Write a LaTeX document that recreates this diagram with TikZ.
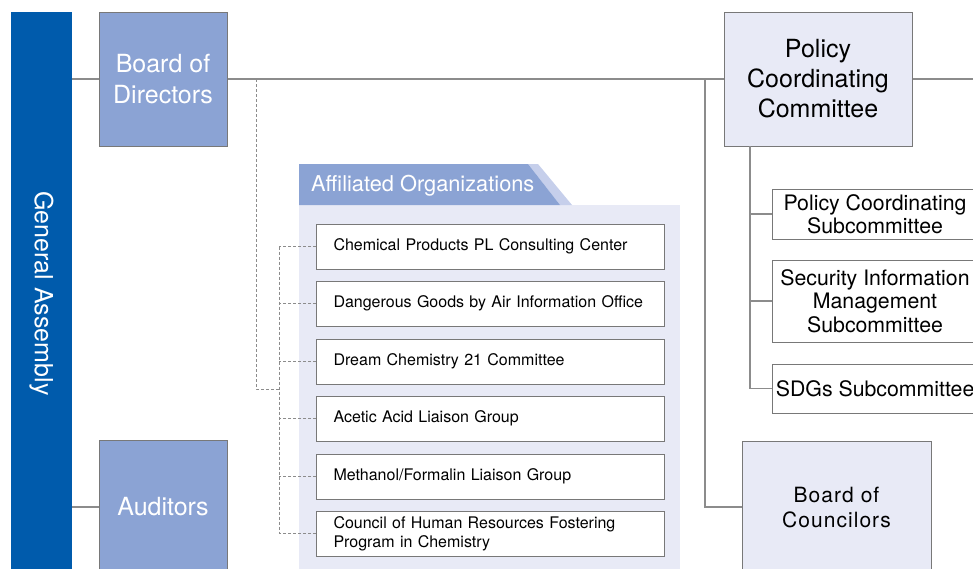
\documentclass[tikz,border=0pt]{standalone}
\usepackage{fontspec}
\setmainfont{TeX Gyre Heros}
\newfontfamily\spaced[LetterSpace=5]{TeX Gyre Heros}
\usepackage{tikz}
\usetikzlibrary{shapes}
\usetikzlibrary{positioning}
\usepackage{xcolor}
\definecolor{gablue}{HTML}{005BAC}
\definecolor{boxblue}{HTML}{8BA3D4}
\definecolor{palebg}{HTML}{E8EAF6}
\definecolor{tabpale}{HTML}{C6CFEB}
\definecolor{linegray}{HTML}{8C8C8C}
\definecolor{edgegray}{HTML}{787878}

\begin{document}
\begin{tikzpicture}[x=1pt,y=-1pt,
  conn/.style={linegray,line width=1.2pt},
  dots/.style={linegray,line width=1pt,dash pattern=on 3pt off 2pt},
  bigbox/.style={draw=edgegray,line width=1pt,minimum width=128pt,minimum height=134pt,fill=boxblue,text=white,align=center,font=\fontsize{25}{31}\selectfont},
  orgbox/.style={draw=edgegray,line width=1pt,fill=white,anchor=west,minimum height=45pt,text width=314pt,inner xsep=17pt,align=left,font=\fontsize{16}{19}\selectfont},
  subbox/.style={draw=edgegray,line width=1pt,fill=white,anchor=west,minimum width=205pt,align=center,font=\fontsize{21.3}{23.5}\selectfont}]
\useasboundingbox (0,0) rectangle (973,568);
\clip (0,0) rectangle (973,568);

\node[fill=gablue,text=white,rotate=-90,minimum width=563pt,minimum height=61pt,font=\fontsize{25}{30}\selectfont] (ga) at (41.5,293.5) {General Assembly};
\node[bigbox] (bod) at (163,79) {Board of\\Directors};
\node[bigbox] (aud) at (163,507) {Auditors};
\node[bigbox,fill=palebg,text=black,minimum width=188pt,font=\fontsize{25}{30}\selectfont] (pcc) at (818,79) {Policy\\Coordinating\\Committee};
\node[bigbox,fill=palebg,text=black,minimum width=189pt,minimum height=132pt,font=\spaced\fontsize{21}{25}\selectfont] (boc) at (836.5,507) {Board of\\Councilors};

\fill[palebg] (299,205) rectangle (680,575);
\fill[tabpale] (528,164) -- (538,164) -- (572,205) -- (560,205) -- cycle;
\fill[boxblue] (299,164) -- (528,164) -- (560,205) -- (299,205) -- cycle;
\node[anchor=west,text=white,inner sep=0pt,font=\fontsize{21.8}{25}\selectfont] (aohead) at (311,186) {Affiliated Organizations};

\node[orgbox] (ao1) at (316,246.5) {Chemical Products PL Consulting Center};
\node[orgbox] (ao2) at (316,303.5) {Dangerous Goods by Air Information Office};
\node[orgbox] (ao3) at (316,361.5) {Dream Chemistry 21 Committee};
\node[orgbox] (ao4) at (316,418.5) {Acetic Acid Liaison Group};
\node[orgbox] (ao5) at (316,476.5) {Methanol/Formalin Liaison Group};
\node[orgbox] (ao6) at (316,533.5) {Council of Human Resources Fostering\\Program in Chemistry};

\node[subbox,minimum height=50pt] (pcs) at (772,214) {Policy Coordinating\\Subcommittee};
\node[subbox,minimum height=82pt] (sim) at (772,301) {Security Information\\Management\\Subcommittee};
\node[subbox,minimum height=49pt] (sdg) at (772,388.5) {SDGs Subcommittee};

\coordinate (tap) at (256,79);
\coordinate (jn) at (279,389);
\coordinate (tap2) at (705,79);
\coordinate (sub) at (750,146);
\coordinate (rend) at (980,79);

\draw[conn] (ga.north |- bod) -- (bod.west);
\draw[conn] (ga.north |- aud) -- (aud.west);
\draw[conn] (bod.east) -- (pcc.west);
\draw[conn] (pcc.east) -- (rend);
\draw[conn] (tap2) |- (boc.west);
\draw[conn] (sub) |- (sdg.west);
\draw[conn] (pcs.west) -- (pcs.west -| sub);
\draw[conn] (sim.west) -- (sim.west -| sub);
\draw[dots] (tap) |- (jn);
\draw[dots] (ao1.west -| jn) -- (ao6.west -| jn);
\foreach \i in {1,...,6}
  \draw[dots] (ao\i.west) -- (ao\i.west -| jn);
\end{tikzpicture}
\end{document}
